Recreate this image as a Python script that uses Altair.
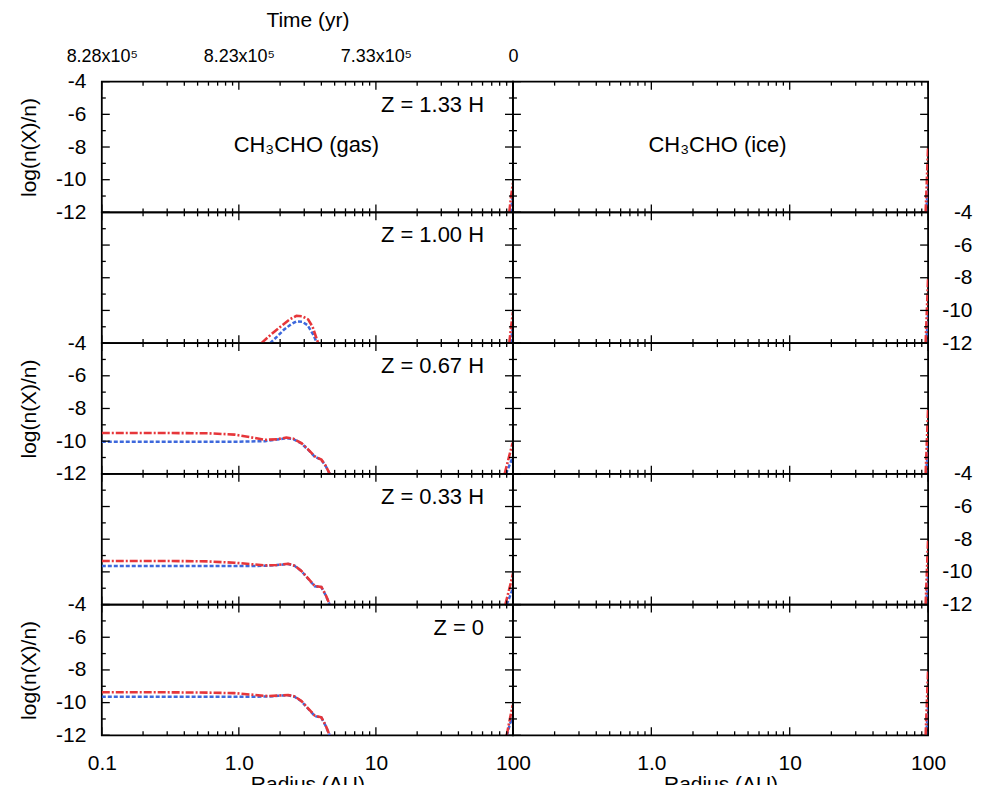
import altair as alt
import pandas as pd

# ---------------- data ----------------
ROW_LABELS = ["Z = 1.33 H", "Z = 1.00 H", "Z = 0.67 H", "Z = 0.33 H", "Z = 0"]
GAS_TITLE = "CH₃CHO (gas)"
ICE_TITLE = "CH₃CHO (ice)"

X_TICKS = [0.1, 1, 10, 100]
X_MINOR = [0.2, 0.3, 0.4, 0.5, 0.6, 0.7, 0.8, 0.9, 2, 3, 4, 5, 6, 7, 8, 9,
           20, 30, 40, 50, 60, 70, 80, 90]
X_LABELS_LEFT = ["0.1", "1.0", "10", "100"]
X_LABELS_RIGHT = ["", "1.0", "10", "100"]
TIME_LABELS = ["8.28x10⁵", "8.23x10⁵", "7.33x10⁵", "0"]
Y_TICKS = [-4, -6, -8, -10, -12]
Y_MINOR = [-5, -7, -9, -11]
Y_LABELS = ["-4", "-6", "-8", "-10", "-12"]

# Z = 1.33 H  (gas)
Z133_GAS_RED = [([94, 97, 100], [-12, -11.0, -10.2])]
Z133_GAS_BLUE = [([96, 98.5, 100], [-12, -11.4, -11.0])]
# Z = 1.00 H  (gas)
Z100_GAS_RED = [([1.46, 1.73, 2.05, 2.35, 2.63, 2.9, 3.2, 3.45, 3.79],
                 [-12, -11.45, -10.94, -10.55, -10.33, -10.36, -10.55, -11.0, -12]),
                ([94, 97, 100], [-12, -11.0, -10.1])]
Z100_GAS_BLUE = [([1.69, 1.9, 2.12, 2.4, 2.63, 2.9, 3.17, 3.5, 3.71],
                  [-12, -11.6, -11.2, -10.85, -10.67, -10.7, -10.9, -11.5, -12]),
                 ([96, 98.5, 100], [-12, -11.4, -11.0])]
# Z = 0.67 H  (gas)
Z067_GAS_RED = [([0.1, 0.3, 0.6, 0.93, 1.2, 1.55, 1.9, 2.22, 2.5, 2.86, 3.2, 3.58, 4.0, 4.3, 4.6],
                 [-9.5, -9.5, -9.52, -9.6, -9.75, -9.92, -9.88, -9.78, -9.85, -10.12, -10.5,
                  -10.93, -11.13, -11.5, -12]),
                ([87, 92, 96, 99.5], [-12, -11.2, -10.6, -10.1])]
Z067_GAS_BLUE = [([0.1, 0.5, 1.0, 1.55, 1.9, 2.22, 2.5, 2.86, 3.2, 3.58, 4.0, 4.3, 4.6],
                  [-10.03, -10.03, -10.03, -10.0, -9.9, -9.82, -9.88, -10.14, -10.52,
                   -10.95, -11.15, -11.52, -12]),
                 ([89, 94, 99.5], [-12, -11.5, -11.0])]
# Z = 0.33 H  (gas)
Z033_GAS_RED = [([0.1, 0.3, 0.6, 0.93, 1.2, 1.55, 1.9, 2.29, 2.55, 2.86, 3.2, 3.58, 4.0, 4.3, 4.6],
                 [-9.33, -9.33, -9.36, -9.44, -9.52, -9.6, -9.58, -9.5, -9.62, -9.94, -10.4,
                  -10.86, -10.92, -11.4, -12]),
                ([88, 93, 97, 100], [-12, -11.2, -10.6, -10.1])]
Z033_GAS_BLUE = [([0.1, 0.5, 1.0, 1.55, 1.9, 2.29, 2.55, 2.86, 3.2, 3.58, 4.0, 4.3, 4.6],
                  [-9.64, -9.64, -9.64, -9.63, -9.58, -9.52, -9.63, -9.95, -10.42, -10.88,
                   -10.94, -11.42, -12]),
                 ([90, 95, 100], [-12, -11.5, -11.0])]
# Z = 0  (gas)
Z0_GAS_RED = [([0.1, 0.3, 0.6, 0.93, 1.2, 1.63, 1.95, 2.29, 2.55, 2.86, 3.2, 3.58, 4.0, 4.3, 4.6],
               [-9.37, -9.37, -9.39, -9.42, -9.5, -9.6, -9.57, -9.53, -9.62, -9.9, -10.35,
                -10.8, -10.9, -11.4, -12]),
              ([90, 95, 99.6], [-12, -11.0, -10.15])]
Z0_GAS_BLUE = [([0.1, 0.5, 1.0, 1.63, 1.95, 2.29, 2.55, 2.86, 3.2, 3.58, 4.0, 4.3, 4.6],
                [-9.64, -9.64, -9.64, -9.63, -9.58, -9.55, -9.64, -9.92, -10.37, -10.82,
                 -10.92, -11.42, -12]),
               ([90.5, 95, 100], [-12, -11.3, -10.9])]
# ice (all heights)
ICE_RED = [([96, 98, 100], [-12, -10, -8])]
ICE_BLUE = [([97, 99, 100], [-12, -10.8, -10.2])]

GAS_RED = [Z133_GAS_RED, Z100_GAS_RED, Z067_GAS_RED, Z033_GAS_RED, Z0_GAS_RED]
GAS_BLUE = [Z133_GAS_BLUE, Z100_GAS_BLUE, Z067_GAS_BLUE, Z033_GAS_BLUE, Z0_GAS_BLUE]

RED = "#e6363a"
BLUE = "#3d68dc"
FONT = "Liberation Sans"
W_LEFT, W_RIGHT, H = 412, 416, 131


def seg_frame(segs):
    rows = []
    for i, (rs, vs) in enumerate(segs):
        for r, v in zip(rs, vs):
            rows.append({"r": r, "v": v, "seg": i})
    return pd.DataFrame(rows)


def label_expr(values, labels):
    vals = ",".join(repr(float(v)) for v in values)
    labs = ",".join("'" + l + "'" for l in labels)
    return f"[{labs}][indexof([{vals}], datum.value)]"


XSCALE = alt.Scale(type="log", domain=[0.1, 100], nice=False)
YSCALE = alt.Scale(domain=[-12, -4], nice=False, zero=False)


def panel(row, col):
    W = W_LEFT if col == 0 else W_RIGHT
    # x axis
    if row == 0 and col == 0:
        xaxis = alt.Axis(orient="top", values=X_TICKS, ticks=False, domain=False, grid=False,
                         labelExpr=label_expr(X_TICKS, TIME_LABELS), labelFlush=False,
                         labelFontSize=18, labelPadding=16, title="Time (yr)",
                         titleFontSize=21, titleFontWeight="normal",
                         titleY=-61, titleBaseline="middle")
    elif row == 4:
        xaxis = alt.Axis(orient="bottom", values=X_TICKS, ticks=False, domain=False, grid=False,
                         labelExpr=label_expr(X_TICKS, X_LABELS_LEFT if col == 0 else X_LABELS_RIGHT),
                         labelFlush=False, labelFontSize=21, labelPadding=17,
                         title="Radius (AU)", titleFontSize=21, titleFontWeight="normal",
                         titlePadding=0)
    else:
        xaxis = None
    # y axis
    if col == 0 and row in (0, 2, 4):
        yaxis = alt.Axis(orient="left", values=Y_TICKS, ticks=False, domain=False, grid=False,
                         labelExpr=label_expr(Y_TICKS, Y_LABELS), labelFontSize=21,
                         labelPadding=16, labelAlign="right", title="log(n(X)/n)",
                         titleFontSize=21, titleFontWeight="normal", titlePadding=16)
    elif col == 1 and row in (1, 3):
        yaxis = alt.Axis(orient="right", values=Y_TICKS, ticks=False, domain=False, grid=False,
                         labelExpr=label_expr(Y_TICKS, Y_LABELS), labelFontSize=21,
                         labelPadding=44, labelAlign="right", title=None)
    else:
        yaxis = None

    xenc = alt.X("r:Q", scale=XSCALE, axis=xaxis)
    yenc = alt.Y("v:Q", scale=YSCALE, axis=yaxis)

    red = ICE_RED if col == 1 else GAS_RED[row]
    blue = ICE_BLUE if col == 1 else GAS_BLUE[row]

    layers = []
    layers.append(alt.Chart(seg_frame(blue)).mark_line(
        color=BLUE, strokeDash=[4, 2], strokeWidth=2.5, clip=True).encode(
        x=xenc, y=yenc, detail="seg:N"))
    layers.append(alt.Chart(seg_frame(red)).mark_line(
        color=RED, strokeDash=[8, 2, 2, 2], strokeWidth=2.6, clip=True).encode(
        x=xenc, y=yenc, detail="seg:N"))

    xt_major = pd.DataFrame({"r": X_TICKS})
    xt_minor = pd.DataFrame({"r": X_MINOR})
    yt_major = pd.DataFrame({"v": Y_TICKS})
    yt_minor = pd.DataFrame({"v": Y_MINOR})
    for df, L in ((xt_major, 8), (xt_minor, 4)):
        layers.append(alt.Chart(df).mark_rule(color="black", strokeWidth=1.3).encode(
            x=xenc, y=alt.value(0), y2=alt.value(L)))
        layers.append(alt.Chart(df).mark_rule(color="black", strokeWidth=1.3).encode(
            x=xenc, y=alt.value(H), y2=alt.value(H - L)))
    for df, L in ((yt_major, 8), (yt_minor, 4)):
        layers.append(alt.Chart(df).mark_rule(color="black", strokeWidth=1.3).encode(
            y=yenc, x=alt.value(0), x2=alt.value(L)))
        layers.append(alt.Chart(df).mark_rule(color="black", strokeWidth=1.3).encode(
            y=yenc, x=alt.value(W), x2=alt.value(W - L)))

    if col == 0:
        layers.append(alt.Chart(pd.DataFrame({"t": [ROW_LABELS[row]]})).mark_text(
            align="right", baseline="middle", fontSize=22, font=FONT, color="black").encode(
            text="t:N", x=alt.value(383), y=alt.value(23)))
    if row == 0:
        layers.append(alt.Chart(pd.DataFrame({"t": [GAS_TITLE if col == 0 else ICE_TITLE]})).mark_text(
            align="center", baseline="middle", fontSize=22, font=FONT, color="black").encode(
            text="t:N", x=alt.value(205), y=alt.value(63)))

    return alt.layer(*layers).properties(width=W, height=H)


panels = []
for row in range(5):
    for col in range(2):
        panels.append(panel(row, col))

chart = alt.concat(*panels, columns=2, spacing=0, bounds="flush", align="none").properties(
    padding={"left": 9, "top": 0, "right": 0, "bottom": -11}
).configure(background="white").configure_view(
    stroke="black", strokeWidth=1.8
).configure_axis(
    labelFont=FONT, titleFont=FONT, labelColor="black", titleColor="black"
)

chart.save("out.html", embed_options={"renderer": "svg", "actions": False})
